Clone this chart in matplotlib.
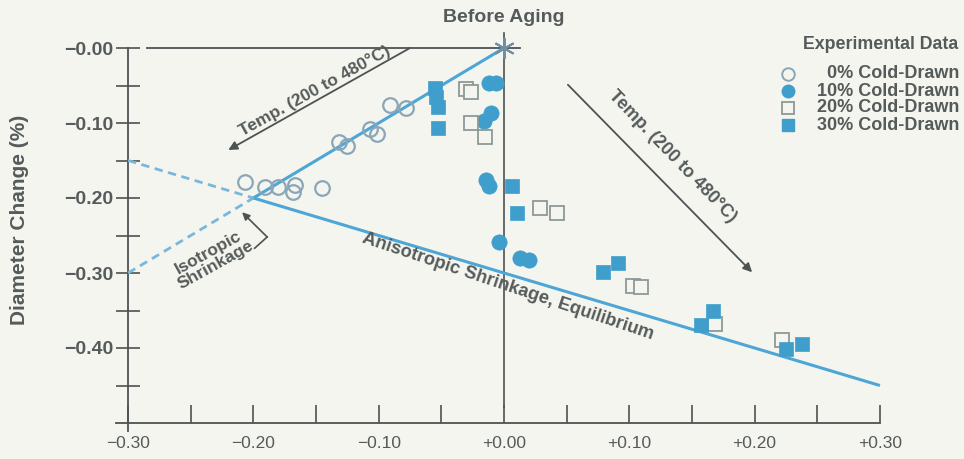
import matplotlib
matplotlib.use("Agg")
import matplotlib.pyplot as plt
from matplotlib.ticker import FixedLocator, FixedFormatter

plt.rcParams['font.family'] = ['Liberation Sans', 'DejaVu Sans']

# ---------------- data ----------------
cd0_x = [-0.207, -0.191, -0.180, -0.167, -0.168, -0.145, -0.132, -0.125, -0.107, -0.101, -0.091, -0.078]
cd0_y = [-0.179, -0.185, -0.185, -0.183, -0.192, -0.187, -0.125, -0.131, -0.108, -0.115, -0.076, -0.080]

cd10_x = [-0.012, -0.006, -0.016, -0.010, -0.014, -0.012, -0.004, 0.013, 0.020]
cd10_y = [-0.047, -0.047, -0.097, -0.087, -0.176, -0.184, -0.259, -0.280, -0.283]

cd20_x = [-0.030, -0.026, -0.026, -0.015, 0.029, 0.042, 0.103, 0.109, 0.168, 0.222]
cd20_y = [-0.055, -0.059, -0.100, -0.119, -0.213, -0.220, -0.317, -0.319, -0.368, -0.389]

cd30_x = [-0.055, -0.054, -0.053, -0.053, 0.006, 0.010, 0.079, 0.091, 0.157, 0.167, 0.225, 0.238]
cd30_y = [-0.053, -0.065, -0.079, -0.107, -0.184, -0.220, -0.299, -0.287, -0.369, -0.351, -0.401, -0.395]

iso_x = [-0.20, 0.00]
iso_y = [-0.20, 0.00]
iso_ext_x = [-0.30, -0.20]
iso_ext_y = [-0.30, -0.20]
aniso_x = [-0.20, 0.30]
aniso_y = [-0.20, -0.45]
aniso_ext_x = [-0.30, -0.20]
aniso_ext_y = [-0.15, -0.20]

x_ticks = [-0.30, -0.20, -0.10, 0.00, 0.10, 0.20, 0.30]
x_labels = ['\u22120.30', '\u22120.20', '\u22120.10', '+0.00', '+0.10', '+0.20', '+0.30']
x_minor = [-0.25, -0.15, -0.05, 0.05, 0.15, 0.25]
y_ticks = [0.00, -0.10, -0.20, -0.30, -0.40]
y_labels = ['\u22120.00', '\u22120.10', '\u22120.20', '\u22120.30', '\u22120.40']
y_minor = [-0.05, -0.15, -0.25, -0.35, -0.45]

legend_labels = ['0% Cold-Drawn', '10% Cold-Drawn', '20% Cold-Drawn', '30% Cold-Drawn']

# ---------------- style ----------------
BG = '#f4f5ee'
AX = '#4d5252'
TXT = '#555b5b'
BLUE_LINE = '#4ea6d6'
BLUE_DASH = '#79b8dc'
BLUE_FILL = '#3f9ecb'
OPEN_C = '#8aa6b8'
OPEN_S = '#8c9898'
FW = 'bold'

fig = plt.figure(figsize=(9.64, 4.59), dpi=100, facecolor=BG)
ax = fig.add_axes([0, 0, 1, 1], facecolor=BG)
ax.set_xlim(-0.4022, 0.3671)
ax.set_ylim(-0.548, 0.064)

for s in ['top', 'right']:
    ax.spines[s].set_visible(False)
ax.spines['left'].set_position(('data', -0.30))
ax.spines['left'].set_bounds(-0.51, 0.0)
ax.spines['bottom'].set_position(('data', -0.50))
ax.spines['bottom'].set_bounds(-0.31, 0.30)
for s in ['left', 'bottom']:
    ax.spines[s].set_color(AX)
    ax.spines[s].set_linewidth(1.3)

ax.xaxis.set_major_locator(FixedLocator(x_ticks))
ax.xaxis.set_major_formatter(FixedFormatter(x_labels))
ax.xaxis.set_minor_locator(FixedLocator(x_minor))
ax.yaxis.set_major_locator(FixedLocator(y_ticks))
ax.yaxis.set_major_formatter(FixedFormatter(y_labels))
ax.yaxis.set_minor_locator(FixedLocator(y_minor))
ax.tick_params(axis='x', which='both', direction='in', length=13, width=1.2, color=AX,
               labelsize=12.5, labelcolor=TXT, pad=9)
ax.tick_params(axis='y', which='both', direction='inout', length=17, width=1.2, color=AX,
               labelsize=14, labelcolor=TXT, pad=2)
for lab in ax.get_yticklabels():
    lab.set_fontweight(FW)

ax.text(-0.387, -0.229, 'Diameter Change (%)', rotation=90, ha='center', va='center',
        fontsize=15, color=TXT, fontweight=FW)

# reference lines
ax.plot([-0.285, 0.013], [0.0, 0.0], color=AX, lw=1.3, zorder=2)
ax.plot([0.0, 0.0], [0.02, -0.478], color=AX, lw=1.2, zorder=2)

# model lines
ax.plot(iso_x, iso_y, color=BLUE_LINE, lw=2.2, zorder=3, solid_capstyle='butt')
ax.plot(aniso_x, aniso_y, color=BLUE_LINE, lw=2.2, zorder=3, solid_capstyle='butt')
ax.plot(iso_ext_x, iso_ext_y, color=BLUE_DASH, lw=2.0, ls=(0, (3, 2)), zorder=3)
ax.plot(aniso_ext_x, aniso_ext_y, color=BLUE_DASH, lw=2.0, ls=(0, (3, 2)), zorder=3)

# before aging star
ax.plot([0.0], [0.0], marker=(6, 2, 0), markersize=15, color='#6f8da3', mew=1.4, zorder=5)
ax.text(0.0, 0.041, 'Before Aging', ha='center', va='center', fontsize=14, color=TXT,
        fontweight=FW)

# data points
ax.plot(cd0_x, cd0_y, ls='none', marker='o', markersize=10.5, mfc='none', mec=OPEN_C, mew=1.6, zorder=6)
ax.plot(cd10_x, cd10_y, ls='none', marker='o', markersize=11, mfc=BLUE_FILL, mec=BLUE_FILL, mew=0.5, zorder=6)
ax.plot(cd20_x, cd20_y, ls='none', marker='s', markersize=9.5, mfc=BG, mec=OPEN_S, mew=1.3, zorder=6)
ax.plot(cd30_x, cd30_y, ls='none', marker='s', markersize=10, mfc=BLUE_FILL, mec=BLUE_FILL, mew=0.5, zorder=7)

# arrows and annotations
arr = dict(arrowstyle='-|>', color=AX, lw=1.3, mutation_scale=13, shrinkA=0, shrinkB=0)
ax.annotate('', xy=(-0.220, -0.136), xytext=(-0.075, 0.0), arrowprops=arr, zorder=4)
ax.text(-0.151, -0.057, 'Temp. (200 to 480\u00b0C)', rotation=29, ha='center', va='center',
        fontsize=12.5, color=TXT, rotation_mode='anchor', fontweight=FW)
ax.annotate('', xy=(0.198, -0.299), xytext=(0.051, -0.049), arrowprops=arr, zorder=4)
ax.text(0.134, -0.145, 'Temp. (200 to 480\u00b0C)', rotation=-46, ha='center', va='center',
        fontsize=13, color=TXT, rotation_mode='anchor', fontweight=FW)

ax.text(-0.233, -0.281, 'Isotropic\nShrinkage', rotation=29, ha='center', va='center',
        fontsize=12.5, color=TXT, rotation_mode='anchor', linespacing=1.0, fontweight=FW)
ax.plot([-0.199, -0.189], [-0.267, -0.252], color=AX, lw=1.2, zorder=4)
ax.annotate('', xy=(-0.209, -0.219), xytext=(-0.189, -0.252),
            arrowprops=dict(arrowstyle='-|>', color=AX, lw=1.2, mutation_scale=11, shrinkA=0, shrinkB=0))

ax.text(0.003, -0.318, 'Anisotropic Shrinkage, Equilibrium', rotation=-18.5, ha='center', va='center',
        fontsize=13.2, color=TXT, rotation_mode='anchor', fontweight=FW)

# legend (manual, in axes fraction coordinates)
ax.text(0.913, 0.902, 'Experimental Data', transform=ax.transAxes, ha='center', va='center',
        fontsize=12.8, color=TXT, fontweight=FW)
leg_style = [dict(marker='o', mfc='none', mec=OPEN_C, mew=1.4, markersize=9),
             dict(marker='o', mfc=BLUE_FILL, mec=BLUE_FILL, markersize=9),
             dict(marker='s', mfc='none', mec=OPEN_S, mew=1.3, markersize=8),
             dict(marker='s', mfc=BLUE_FILL, mec=BLUE_FILL, markersize=8.5)]
row_y = [74, 91, 108, 125]
for lab, st, py in zip(legend_labels, leg_style, row_y):
    yf = 1 - py / 459.0
    ax.plot([788 / 964.0], [yf], transform=ax.transAxes, ls='none', **st)
    ax.text(959 / 964.0, yf, lab, transform=ax.transAxes, ha='right', va='center',
            fontsize=13, color=TXT, fontweight=FW)

fig.savefig('out.png', dpi=100, facecolor=BG)
